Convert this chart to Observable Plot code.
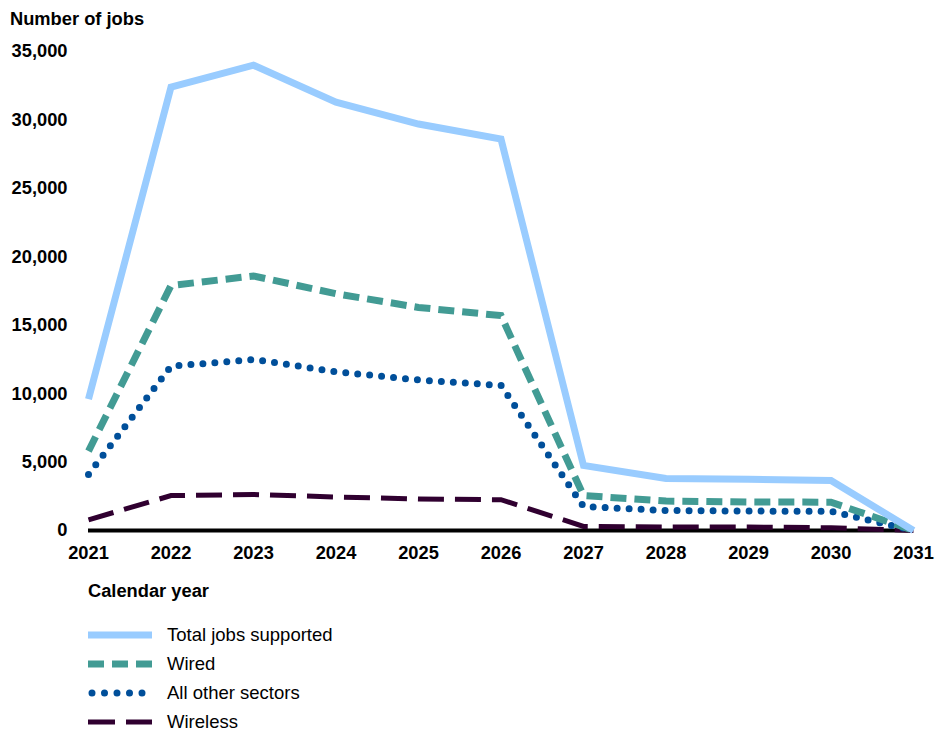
<!DOCTYPE html>
<html>
<head>
<meta charset="utf-8">
<script src="https://cdn.jsdelivr.net/npm/d3@7"></script>
<script src="https://cdn.jsdelivr.net/npm/@observablehq/plot@0.6"></script>
<style>
  body { margin: 0; background: #fff; font-family: "Liberation Sans", Arial, sans-serif; }
  #wrap { position: relative; width: 946px; height: 733px; }
  #title { position: absolute; left: 10px; top: 8px; font-size: 18.3px; font-weight: bold; color: #000; }
  #chart { position: absolute; left: 0; top: 36px; }
  #xlabel { position: absolute; left: 88px; top: 580px; font-size: 18.3px; font-weight: bold; color: #000; }
  .leg { position: absolute; left: 88px; height: 20px; display: flex; align-items: center; font-size: 18.5px; color: #000; }
  .leg svg { margin-right: 15px; }
</style>
</head>
<body>
<div id="wrap">
  <div id="title">Number of jobs</div>
  <div id="chart"></div>
  <div id="xlabel">Calendar year</div>
  <div id="legend"></div>
</div>
<script>
const years = [2021, 2022, 2023, 2024, 2025, 2026, 2027, 2028, 2029, 2030, 2031];
const totalJobs = [9600, 32400, 34000, 31300, 29700, 28600, 4750, 3800, 3750, 3650, 0];
const wired = [5800, 17900, 18600, 17300, 16300, 15700, 2550, 2150, 2080, 2070, 0];
const allOther = [4100, 12000, 12500, 11600, 11000, 10600, 1750, 1460, 1420, 1400, 0];
const wireless = [780, 2550, 2630, 2450, 2300, 2250, 300, 250, 250, 200, 0];
const yTicks = [0, 5000, 10000, 15000, 20000, 25000, 30000, 35000];
const xTicks = years;

const seriesNames = ["Total jobs supported", "Wired", "All other sectors", "Wireless"];
const seriesValues = [totalJobs, wired, allOther, wireless];
const styles = {
  "Total jobs supported": {stroke: "#99ccff", strokeWidth: 7, strokeDasharray: null, strokeLinecap: "butt"},
  "Wired": {stroke: "#429b94", strokeWidth: 7, strokeDasharray: "16,8", strokeLinecap: "butt"},
  "All other sectors": {stroke: "#004f9a", strokeWidth: 7, strokeDasharray: "0,12", strokeLinecap: "round"},
  "Wireless": {stroke: "#300030", strokeWidth: 5, strokeDasharray: "26,11", strokeLinecap: "butt"}
};

const rows = name => {
  const vals = seriesValues[seriesNames.indexOf(name)];
  return years.map((y, i) => ({year: y, value: vals[i]}));
};

const lineMark = name => {
  const s = styles[name];
  const opts = {x: "year", y: "value", stroke: s.stroke, strokeWidth: s.strokeWidth,
    strokeLinecap: s.strokeLinecap, strokeLinejoin: "miter", strokeMiterlimit: 4};
  if (s.strokeDasharray) opts.strokeDasharray = s.strokeDasharray;
  return Plot.line(rows(name), opts);
};

const chart = Plot.plot({
  width: 946,
  height: 530,
  marginLeft: 88,
  marginRight: 33,
  marginTop: 15,
  marginBottom: 36,
  style: {fontFamily: "'Liberation Sans', Arial, sans-serif", fontSize: "18.3px", fontWeight: "bold", color: "#000", background: "#fff"},
  x: {domain: [2021, 2031], ticks: xTicks, tickFormat: d => String(d), tickSize: 0, tickPadding: 15, label: null},
  y: {domain: [0, 35000], ticks: yTicks, tickFormat: d3.format(","), tickSize: 0, tickPadding: 21, label: null},
  marks: [
    Plot.axisX({ticks: xTicks, tickFormat: d => String(d), tickSize: 0, tickPadding: 15, label: null, fontWeight: "bold"}),
    Plot.axisY({ticks: yTicks, tickFormat: d3.format(","), tickSize: 0, tickPadding: 21, label: null, fontWeight: "bold"}),
    Plot.ruleY([0], {stroke: "#000", strokeWidth: 4}),
    lineMark("Wireless"),
    lineMark("All other sectors"),
    lineMark("Wired"),
    lineMark("Total jobs supported")
  ]
});
document.getElementById("chart").appendChild(chart);

const legendTops = [625, 654, 683, 712];
const legend = document.getElementById("legend");
seriesNames.forEach((name, i) => {
  const s = styles[name];
  const div = document.createElement("div");
  div.className = "leg";
  div.style.top = legendTops[i] + "px";
  const dash = name === "Wired" ? "16,8" : name === "All other sectors" ? "0,12.5" : name === "Wireless" ? "27,11" : "";
  const x1 = name === "All other sectors" ? 4 : 0;
  div.innerHTML = `<svg width="64" height="20"><line x1="${x1}" x2="64" y1="10" y2="10" stroke="${s.stroke}" stroke-width="${s.strokeWidth}" ${dash ? `stroke-dasharray="${dash}"` : ""} stroke-linecap="${s.strokeLinecap}"/></svg><span>${name}</span>`;
  legend.appendChild(div);
});
</script>
</body>
</html>
